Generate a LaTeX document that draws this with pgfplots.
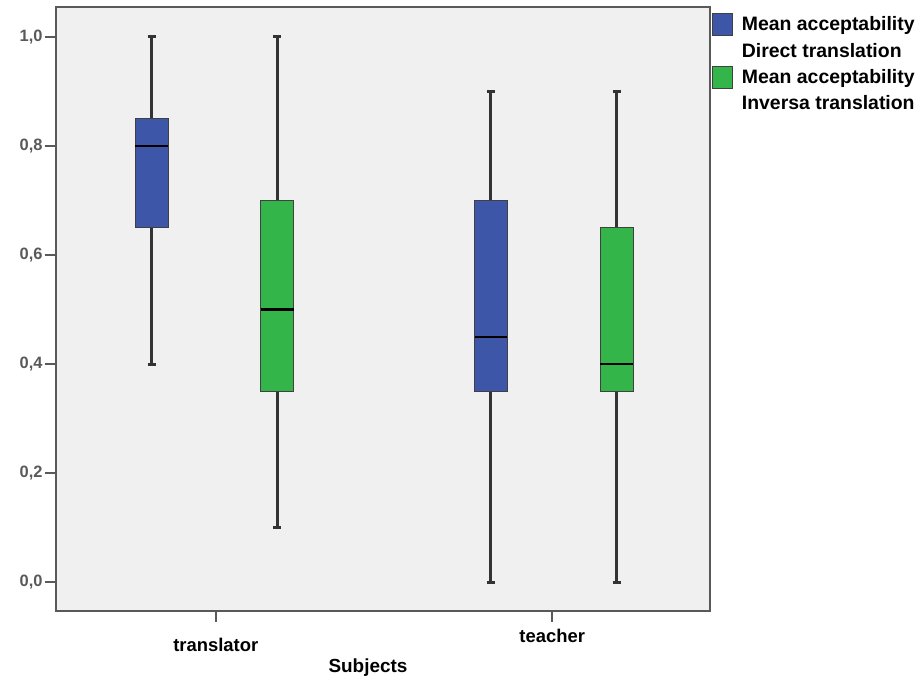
\documentclass[border=0pt]{standalone}
\usepackage{pgfplots}
\pgfplotsset{compat=1.18}
\usepgfplotslibrary{statistics}
\usepackage{fontspec}
\setmainfont{Liberation Sans}
\definecolor{boxblue}{HTML}{3E56A8}
\definecolor{boxgreen}{HTML}{33B54A}
\definecolor{bg}{HTML}{F0F0F0}
\begin{document}
\begin{tikzpicture}
\useasboundingbox (-56bp,-68bp) rectangle (866bp,611bp);
\begin{axis}[
  scale only axis, width=654bp, height=604bp,
  xmin=0.525, xmax=2.469, ymin=-0.053, ymax=1.055,
  axis background/.style={fill=bg},
  axis line style={draw=black!65, line width=1.5bp},
  xtick={1,2}, xticklabels={\raisebox{-9bp}[\height]{translator},teacher},
  ytick={0,0.2,0.4,0.6,0.8,1},
  tick align=outside, xtick pos=bottom, ytick pos=left,
  major tick length=11bp,
  tick style={draw=black!65, line width=1.5bp},
  yticklabel style={font=\fontsize{16.5}{16.5}\selectfont\bfseries, text=black!65, xshift=1bp},
  xticklabel style={font=\fontsize{18.5}{18.5}\selectfont\bfseries, yshift=-4bp},
  /pgf/number format/.cd, use comma, fixed, fixed zerofill, precision=1, assume math mode=true,
  /pgfplots/.cd,
  xlabel={Subjects},
  xlabel style={font=\fontsize{19}{19}\selectfont\bfseries, at={(axis description cs:0.477,-0.074)}, anchor=north},
  legend style={at={(1,1)}, anchor=north west, xshift=-1bp, yshift=-4bp, draw=none, fill=none,
    font=\fontsize{19.5}{21}\selectfont\bfseries, row sep=5bp},
  legend cell align=left,
  boxplot/draw direction=y,
  boxplot/every whisker/.style={draw=black!80, line width=3bp},
  boxplot/every median/.style={draw=black, line width=2.5bp},
]
\addlegendimage{legend image code/.code={\draw[fill=boxblue,draw=black!75,line width=1bp] (0bp,-11bp) rectangle (20bp,11bp); \path (27bp,0bp);}}
\addlegendentry{Mean acceptability}
\addlegendimage{empty legend}
\addlegendentry{Direct translation}
\addlegendimage{legend image code/.code={\draw[fill=boxgreen,draw=black!75,line width=1bp] (0bp,-11bp) rectangle (20bp,11bp); \path (27bp,0bp);}}
\addlegendentry{Mean acceptability}
\addlegendimage{empty legend}
\addlegendentry{Inversa translation}

\addplot[forget plot, fill=boxblue, draw=black!75, line width=1.2bp,
  boxplot prepared={draw position=0.810, lower whisker=0.4, lower quartile=0.65, median=0.8,
  upper quartile=0.85, upper whisker=1.0, box extend=0.098, whisker extend=0.025}] coordinates {};
\addplot[forget plot, fill=boxgreen, draw=black!75, line width=1.2bp,
  boxplot prepared={draw position=1.182, lower whisker=0.1, lower quartile=0.35, median=0.5,
  upper quartile=0.70, upper whisker=1.0, box extend=0.098, whisker extend=0.025}] coordinates {};
\addplot[forget plot, fill=boxblue, draw=black!75, line width=1.2bp,
  boxplot prepared={draw position=1.818, lower whisker=0.0, lower quartile=0.35, median=0.45,
  upper quartile=0.70, upper whisker=0.9, box extend=0.098, whisker extend=0.025}] coordinates {};
\addplot[forget plot, fill=boxgreen, draw=black!75, line width=1.2bp,
  boxplot prepared={draw position=2.192, lower whisker=0.0, lower quartile=0.35, median=0.40,
  upper quartile=0.65, upper whisker=0.9, box extend=0.098, whisker extend=0.025}] coordinates {};
\end{axis}
\end{tikzpicture}
\end{document}
